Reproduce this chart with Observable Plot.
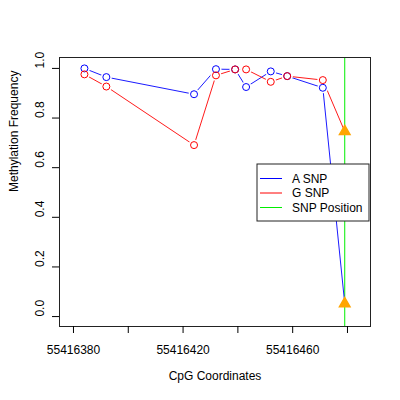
<!DOCTYPE html>
<html>
<head>
<meta charset="utf-8">
<script src="https://cdn.jsdelivr.net/npm/d3@7"></script>
<script src="https://cdn.jsdelivr.net/npm/@observablehq/plot@0.6"></script>
<style>
html, body { margin: 0; padding: 0; background: #fff; }
#chart { width: 400px; height: 400px; }
</style>
</head>
<body>
<div id="chart"></div>
<script>
// CpG coordinates and methylation frequencies
const cpgPos = [55416384, 55416392, 55416424, 55416432, 55416439, 55416443, 55416452, 55416458, 55416471];
const aSnp   = [1.0, 0.965, 0.896, 0.997, 0.996, 0.925, 0.988, 0.969, 0.922];
const gSnp   = [0.976, 0.927, 0.691, 0.972, 0.996, 0.996, 0.946, 0.969, 0.953];
// SNP position and its values
const snpPos = 55416479;
const aSnpAtSnp = 0.052;
const gSnpAtSnp = 0.746;
// ticks
const xTicks = [55416380, 55416400, 55416420, 55416440, 55416460, 55416480];
const xTickLabels = [55416380, 55416420, 55416460];
const yTicks = [0, 0.2, 0.4, 0.6, 0.8, 1.0];
const legendLabels = ["A SNP", "G SNP", "SNP Position"];
const legendColors = ["#0000ff", "#ff0000", "#00ee00"];

const aPts = cpgPos.map((x, i) => ({x, y: aSnp[i]}));
const gPts = cpgPos.map((x, i) => ({x, y: gSnp[i]}));
const aLine = aPts.concat([{x: snpPos, y: aSnpAtSnp}]);
const gLine = gPts.concat([{x: snpPos, y: gSnpAtSnp}]);
const snpPts = [{x: snpPos, y: aSnpAtSnp}, {x: snpPos, y: gSnpAtSnp}];

const font = "'Liberation Sans', Arial, Helvetica, sans-serif";

const plot = Plot.plot({
  width: 400,
  height: 400,
  marginLeft: 59,
  marginRight: 30,
  marginTop: 57,
  marginBottom: 74,
  style: {fontFamily: font, fontSize: "12px", background: "#fff", color: "#000"},
  x: {domain: [55416374.9, 55416488.4]},
  y: {domain: [-0.04, 1.044]},
  marks: [
    Plot.ruleX([snpPos], {stroke: "#00ee00", strokeWidth: 1}),
    Plot.line(aLine, {x: "x", y: "y", stroke: "#0000ff", strokeWidth: 0.9}),
    Plot.line(gLine, {x: "x", y: "y", stroke: "#ff0000", strokeWidth: 0.9}),
    Plot.dot(aPts.concat(gPts), {x: "x", y: "y", r: 5.5, fill: "#fff", stroke: "none"}),
    Plot.dot(aPts, {x: "x", y: "y", r: 3.5, stroke: "#0000ff", fill: "none", strokeWidth: 1}),
    Plot.dot(gPts, {x: "x", y: "y", r: 3.5, stroke: "#ff0000", fill: "none", strokeWidth: 1}),
    Plot.dot(snpPts, {x: "x", y: "y", symbol: "triangle", r: 3.9, fill: "#ffa500", stroke: "#ffa500"}),
    Plot.frame({stroke: "#222"}),
    Plot.axisX({ticks: xTicks, tickSize: 7, tickPadding: 12, label: null,
      tickFormat: d => xTickLabels.includes(d) ? String(d) : "", fontSize: 12}),
    Plot.axisY({ticks: yTicks, tickSize: 7, label: null, tickFormat: () => ""}),
    Plot.text(yTicks, {y: d => d, text: d => d.toFixed(1), frameAnchor: "left", rotate: -90, dx: -19, fontSize: 12}),
    Plot.text(["CpG Coordinates"], {frameAnchor: "bottom", dy: 53, fontSize: 12}),
    Plot.text(["Methylation Frequency"], {frameAnchor: "left", rotate: -90, dx: -45, fontSize: 12})
  ]
});

// Legend (inside the plot area, right side)
const svg = d3.select(plot);
const lg = svg.append("g").attr("font-family", font).attr("font-size", 12).attr("text-anchor", "start");
const bx = 257, by = 164, bw = 112, bh = 57;
lg.append("rect").attr("x", bx).attr("y", by).attr("width", bw).attr("height", bh)
  .attr("fill", "#fff").attr("stroke", "#222");
legendLabels.forEach((lab, i) => {
  const yy = 178.5 + i * 14.5;
  lg.append("line").attr("x1", 260).attr("x2", 282).attr("y1", yy).attr("y2", yy)
    .attr("stroke", legendColors[i]).attr("stroke-width", 1);
  lg.append("text").attr("x", 292).attr("y", yy).attr("dy", "0.35em")
    .attr("text-anchor", "start").attr("fill", "#000").text(lab);
});

document.getElementById("chart").appendChild(plot);
</script>
</body>
</html>
